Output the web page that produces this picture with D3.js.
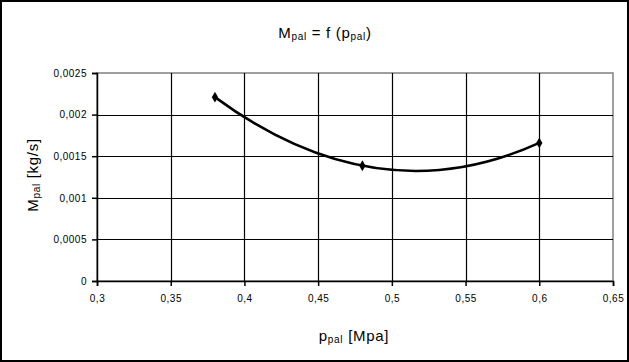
<!DOCTYPE html>
<html>
<head>
<meta charset="utf-8">
<script src="https://cdn.jsdelivr.net/npm/d3@7"></script>
<style>
  body { margin: 0; background: #fff; }
  text { font-family: "Liberation Sans", Arial, sans-serif; fill: #000; }
</style>
</head>
<body>
<svg width="629" height="362"></svg>
<script>
const width = 629;
const height = 362;

// data
const pressure = [0.38, 0.48, 0.6];
const massFlow = [0.00221, 0.001385, 0.00166];
const xTicks = [0.3, 0.35, 0.4, 0.45, 0.5, 0.55, 0.6, 0.65];
const yTicks = [0, 0.0005, 0.001, 0.0015, 0.002, 0.0025];

const margin = {left: 97, right: 16, top: 73, bottom: 81};

const svg = d3.select("svg");

// outer frame
svg.append("rect")
   .attr("x", 1).attr("y", 1)
   .attr("width", width - 2).attr("height", height - 2)
   .attr("fill", "#fff")
   .attr("stroke", "#000")
   .attr("stroke-width", 2);

const x = d3.scaleLinear().domain([0.3, 0.65]).range([margin.left, width - margin.right]);
const y = d3.scaleLinear().domain([0, 0.0025]).range([height - margin.bottom, margin.top]);

const comma = d => String(d).replace(".", ",");

// plot area border (grey top/right)
svg.append("rect")
   .attr("x", x(0.3)).attr("y", y(0.0025))
   .attr("width", x(0.65) - x(0.3)).attr("height", y(0) - y(0.0025))
   .attr("fill", "none")
   .attr("stroke", "#808080")
   .attr("stroke-width", 1.5);

// gridlines
svg.append("g")
   .selectAll("line")
   .data(yTicks.slice(1, -1))
   .enter()
   .append("line")
   .attr("x1", x(0.3)).attr("x2", x(0.65))
   .attr("y1", d => Math.round(y(d)) + 0.5).attr("y2", d => Math.round(y(d)) + 0.5)
   .attr("stroke", "#000").attr("stroke-width", 1.2);

svg.append("g")
   .selectAll("line")
   .data(xTicks.slice(1, -1))
   .enter()
   .append("line")
   .attr("x1", d => Math.round(x(d)) + 0.5).attr("x2", d => Math.round(x(d)) + 0.5)
   .attr("y1", y(0)).attr("y2", y(0.0025))
   .attr("stroke", "#000").attr("stroke-width", 1.2);

// axes
const xAxis = svg.append("g")
   .attr("transform", `translate(0,${y(0)})`)
   .call(d3.axisBottom(x).tickValues(xTicks).tickFormat(comma).tickSize(5).tickPadding(9));
const yAxis = svg.append("g")
   .attr("transform", `translate(${x(0.3)},0)`)
   .call(d3.axisLeft(y).tickValues(yTicks).tickFormat(comma).tickSize(5).tickPadding(5));

[xAxis, yAxis].forEach(a => {
  a.select(".domain").attr("stroke", "#000").attr("stroke-width", 1.5);
  a.selectAll(".tick line").attr("stroke", "#000").attr("stroke-width", 1.5);
  a.selectAll("text")
   .attr("font-size", 10)
   .attr("letter-spacing", 0.5)
   .attr("font-family", "Liberation Sans, Arial, sans-serif")
   .attr("fill", "#000");
});

// smoothing like the spreadsheet: a parabola through three points,
// written as one quadratic bezier (falls back to cardinal otherwise)
function parabolaCurve(context) {
  let pts = [];
  return {
    areaStart() {}, areaEnd() {},
    lineStart() { pts = []; },
    point(px, py) { pts.push([px, py]); },
    lineEnd() {
      if (pts.length !== 3) {
        const c = d3.curveCardinal.tension(0)(context);
        c.lineStart(); pts.forEach(p => c.point(p[0], p[1])); c.lineEnd();
        return;
      }
      const [p0, p1, p2] = pts;
      const s01 = (p1[1] - p0[1]) / (p1[0] - p0[0]);
      const s12 = (p2[1] - p1[1]) / (p2[0] - p1[0]);
      const a = (s12 - s01) / (p2[0] - p0[0]);
      const slope0 = s01 + a * (p0[0] - p1[0]);
      const half = (p2[0] - p0[0]) / 2;
      context.moveTo(p0[0], p0[1]);
      context.quadraticCurveTo(p0[0] + half, p0[1] + slope0 * half, p2[0], p2[1]);
    }
  };
}

const points = pressure.map((p, i) => [p, massFlow[i]]);
const line = d3.line()
   .x(d => x(d[0]))
   .y(d => y(d[1]))
   .curve(parabolaCurve);

svg.append("path")
   .datum(points)
   .attr("d", line)
   .attr("fill", "none")
   .attr("stroke", "#000")
   .attr("stroke-width", 2.5);

// diamond markers
svg.selectAll("path.marker")
   .data(points)
   .enter()
   .append("path")
   .attr("class", "marker")
   .attr("d", d3.symbol().type(d3.symbolDiamond).size(34))
   .attr("transform", d => `translate(${x(d[0])},${y(d[1])})`)
   .attr("fill", "#000");

// text with subscript "pal"
function subLabel(sel, main, after) {
  sel.append("tspan").text(main);
  sel.append("tspan").attr("font-size", 10).attr("dy", 2).text("pal");
  sel.append("tspan").attr("dy", -2).text(after);
}

const title = svg.append("text")
   .attr("x", 325).attr("y", 38)
   .attr("text-anchor", "middle")
   .attr("font-size", 15)
   .attr("letter-spacing", 0.7);
title.append("tspan").text("M");
title.append("tspan").attr("font-size", 10).attr("dy", 2).text("pal");
title.append("tspan").attr("dy", -2).text(" = f  (p");
title.append("tspan").attr("font-size", 10).attr("dy", 2).text("pal");
title.append("tspan").attr("dy", -2).text(")");

const xLabel = svg.append("text")
   .attr("x", 354).attr("y", 341)
   .attr("text-anchor", "middle")
   .attr("font-size", 15)
   .attr("letter-spacing", 0.7);
subLabel(xLabel, "p", " [Mpa]");

const yLabel = svg.append("text")
   .attr("transform", "translate(38,175) rotate(-90)")
   .attr("text-anchor", "middle")
   .attr("font-size", 15)
   .attr("letter-spacing", 0.7);
subLabel(yLabel, "M", " [kg/s]");
</script>
</body>
</html>
